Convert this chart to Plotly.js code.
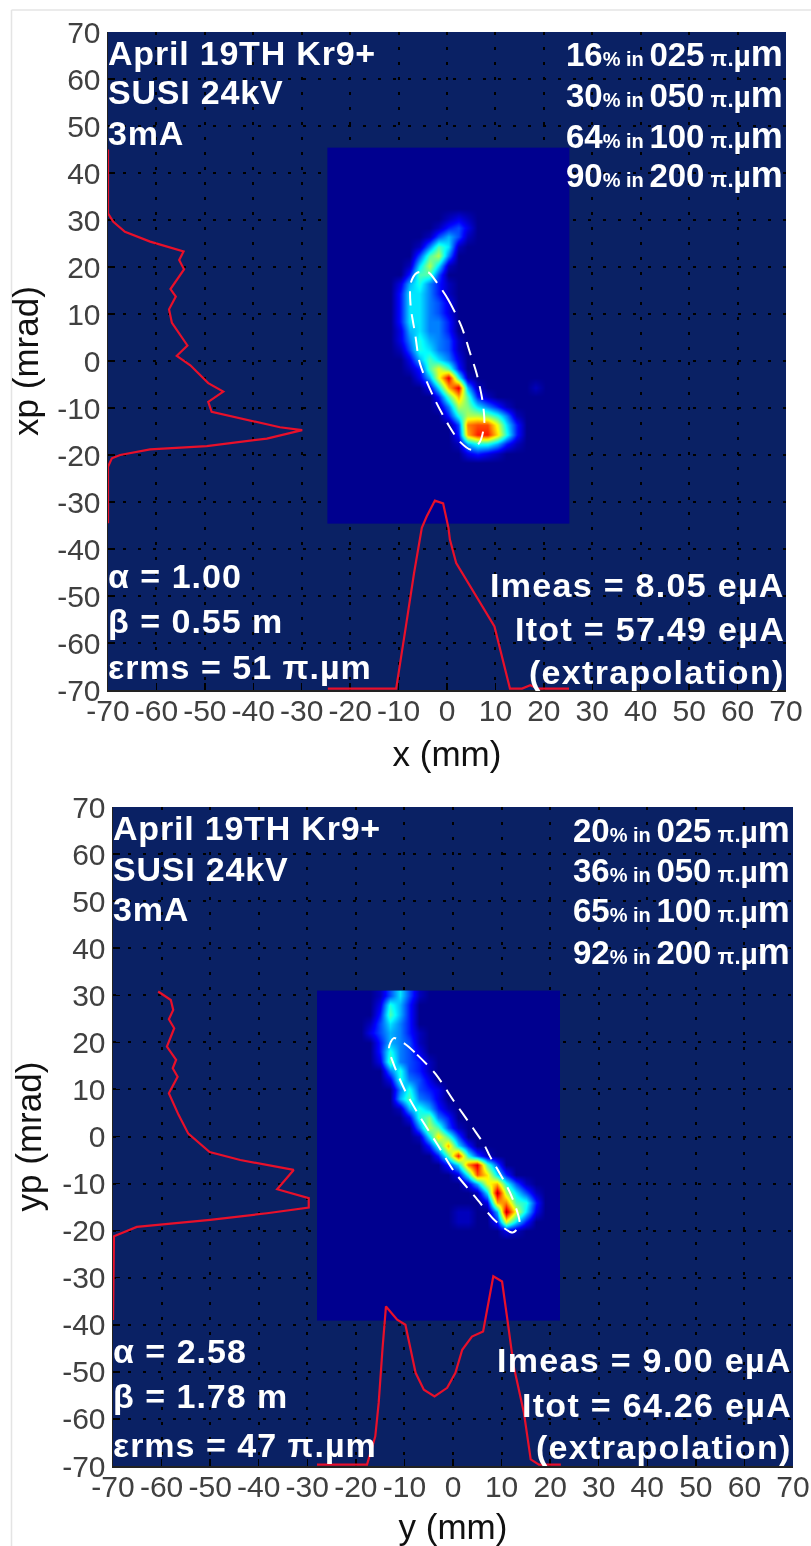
<!DOCTYPE html>
<html>
<head>
<meta charset="utf-8">
<script src="https://cdn.plot.ly/plotly-3.0.1.min.js"></script>
<style>html,body{margin:0;padding:0;background:#fff}#g{width:811px;height:1546px;filter:blur(0.6px)}</style>
</head>
<body>
<div id="g"></div>
<script>
// ---- axis ticks
const tickValues = [-70,-60,-50,-40,-30,-20,-10,0,10,20,30,40,50,60,70];
const tickLabels = ['-70','-60','-50','-40','-30','-20','-10','0','10','20','30','40','50','60','70'];

// ---- top panel (x, xp)
const heat1X = [-23.7,-21.7,-19.7,-17.7,-15.7,-13.7,-11.7,-9.7,-7.7,-5.7,-3.7,-1.7,0.3,2.3,4.3,6.3,8.3,10.3,12.3,14.3,16.3,18.3,20.3,22.3,24.3];
const heat1Y = [44.4,42.4,40.4,38.4,36.4,34.4,32.4,30.4,28.4,26.4,24.4,22.4,20.4,18.4,16.4,14.4,12.4,10.4,8.4,6.4,4.4,2.4,0.4,-1.6,-3.6,-5.6,-7.6,-9.6,-11.6,-13.6,-15.6,-17.6,-19.6,-21.6,-23.6,-25.6,-27.6,-29.6,-31.6,-33.6];
const heat1Z = [
[0,0,0,0,0,0,0,0,0,0,0,0,0,0,0,0,0,0,0,0,0,0,0,0,0],
[0,0,0,0,0,0,0,0,0,0,0,0,0,0,0,0,0,0,0,0,0,0,0,0,0],
[0,0,0,0,0,0,0,0,0,0,0,0,0,0,0,0,0,0,0,0,0,0,0,0,0],
[0,0,0,0,0,0,0,0,0,0,0,0,0,0,0,0,0,0,0,0,0,0,0,0,0],
[0,0,0,0,0,0,0,0,0,0,0,0,0,0,0,0,0,0,0,0,0,0,0,0,0],
[0,0,0,0,0,0,0,0,0,0,0,0,0,0,0,0,0,0,0,0,0,0,0,0,0],
[0,0,0,0,0,0,0,0,0,0,0,0,0,0,0,0,0,0,0,0,0,0,0,0,0],
[0,0,0,0,0,0,0,0,0,0,0,0,1,2,1,0,0,0,0,0,0,0,0,0,0],
[0,0,0,0,0,0,0,0,0,0,0,1,3,4,2,0,0,0,0,0,0,0,0,0,0],
[0,0,0,0,0,0,0,0,0,0,1,4,6,4,1,0,0,0,0,0,0,0,0,0,0],
[0,0,0,0,0,0,0,0,0,1,5,9,7,1,0,0,0,0,0,0,0,0,0,0,0],
[0,0,0,0,0,0,0,0,0,4,9,11,5,0,0,0,0,0,0,0,0,0,0,0,0],
[0,0,0,0,0,0,0,0,1,7,11,7,1,0,0,0,0,0,0,0,0,0,0,0,0],
[0,0,0,0,0,0,0,0,3,9,9,4,0,0,0,0,0,0,0,0,0,0,0,0,0],
[0,0,0,0,0,0,0,2,6,8,5,3,1,0,0,0,0,0,0,0,0,0,0,0,0],
[0,0,0,0,0,0,0,3,7,7,5,3,1,0,0,0,0,0,0,0,0,0,0,0,0],
[0,0,0,0,0,0,0,3,7,7,5,4,2,0,0,0,0,0,0,0,0,0,0,0,0],
[0,0,0,0,0,0,0,3,7,7,5,4,2,0,0,0,0,0,0,0,0,0,0,0,0],
[0,0,0,0,0,0,0,3,7,7,5,5,3,0,0,0,0,0,0,0,0,0,0,0,0],
[0,0,0,0,0,0,0,2,6,7,5,5,3,0,0,0,0,0,0,0,0,0,0,0,0],
[0,0,0,0,0,0,0,2,5,8,6,5,4,1,0,0,0,0,0,0,0,0,0,0,0],
[0,0,0,0,0,0,0,1,4,8,7,5,4,1,0,0,0,0,0,0,0,0,0,0,0],
[0,0,0,0,0,0,0,0,2,6,9,7,5,2,0,0,0,0,0,0,0,0,0,0,0],
[0,0,0,0,0,0,0,0,1,3,9,12,9,3,0,0,0,0,0,0,0,0,0,0,0],
[0,0,0,0,0,0,0,0,0,2,6,12,18,8,1,0,0,0,0,0,0,0,0,0,0],
[0,0,0,0,0,0,0,0,0,0,2,7,14,18,6,1,0,0,0,0,0,1,0,0,0],
[0,0,0,0,0,0,0,0,0,0,0,3,9,14,9,3,1,0,0,0,0,0,0,0,0],
[0,0,0,0,0,0,0,0,0,0,0,1,5,11,10,7,5,3,1,0,0,0,0,0,0],
[0,0,0,0,0,0,0,0,0,0,0,0,3,8,11,11,10,8,5,1,0,0,0,0,0],
[0,0,0,0,0,0,0,0,0,0,0,0,0,4,15,16,16,12,7,3,0,0,0,0,0],
[0,0,0,0,0,0,0,0,0,0,0,0,0,3,14,17,17,13,8,3,0,0,0,0,0],
[0,0,0,0,0,0,0,0,0,0,0,0,0,1,6,8,8,6,3,1,0,0,0,0,0],
[0,0,0,0,0,0,0,0,0,0,0,0,0,0,2,3,2,1,0,0,0,0,0,0,0],
[0,0,0,0,0,0,0,0,0,0,0,0,0,0,0,0,0,0,0,0,0,0,0,0,0],
[0,0,0,0,0,0,0,0,0,0,0,0,0,0,0,0,0,0,0,0,0,0,0,0,0],
[0,0,0,0,0,0,0,0,0,0,0,0,0,0,0,0,0,0,0,0,0,0,0,0,0],
[0,0,0,0,0,0,0,0,0,0,0,0,0,0,0,0,0,0,0,0,0,0,0,0,0],
[0,0,0,0,0,0,0,0,0,0,0,0,0,0,0,0,0,0,0,0,0,0,0,0,0],
[0,0,0,0,0,0,0,0,0,0,0,0,0,0,0,0,0,0,0,0,0,0,0,0,0],
[0,0,0,0,0,0,0,0,0,0,0,0,0,0,0,0,0,0,0,0,0,0,0,0,0]
];
const ellipse1X = [-2.1,0.3,3.0,4.8,6.1,7.3,7.7,6.8,5.1,2.7,0.3,-2.8,-5.6,-6.6,-7.5,-7.5,-6.3,-3.9];
const ellipse1Y = [16.7,13.0,7.3,1.6,-2.6,-8.3,-13.3,-17.2,-18.9,-17.2,-13.6,-7.6,-0.5,5.9,11.6,16.5,18.7,18.9];
const profile1LeftX = [-70,-70,-68.9,-66.5,-61.3,-54.4,-55.3,-54.3,-57.1,-56,-57.4,-56.8,-53.6,-55.8,-53,-49.3,-46.2,-49.3,-48.6,-40,-34.5,-29.9,-37.2,-49.6,-61.3,-67.5,-69.2,-70,-70];
const profile1LeftY = [45,31.4,29.6,27.5,25.4,23.3,21.5,19.5,15.3,13.7,11,8.1,3.3,1.1,-0.9,-4.7,-6.5,-8.7,-10.8,-12.9,-14.1,-14.7,-16.5,-18.1,-18.8,-20,-20.7,-22.5,-34.5];
const profile1BottomX = [-24.6,-10.5,-8.5,-6.8,-5.2,-4.2,-2.5,-0.8,0.3,0.6,1.9,6.6,9.8,13,15.5,17.2,18.8,25.2];
const profile1BottomY = [-69.7,-69.7,-56.5,-45.1,-35.5,-33.1,-29.7,-30.3,-35.5,-38,-43,-50.9,-56.5,-69.7,-69.7,-69,-69.7,-69.7];

// ---- bottom panel (y, yp)
const heat2X = [-27,-25,-23,-21,-19,-17,-15,-13,-11,-9,-7,-5,-3,-1,1,3,5,7,9,11,13,15,17,19,21];
const heat2Y = [30,28,26,24,22,20,18,16,14,12,10,8,6,4,2,0,-2,-4,-6,-8,-10,-12,-14,-16,-18,-20,-22,-24,-26,-28,-30,-32,-34,-36,-38];
const heat2Z = [
[0,0,0,0,0,0,1,4,7,4,1,0,0,0,0,0,0,0,0,0,0,0,0,0,0],
[0,0,0,0,0,0,2,8,6,3,0,0,0,0,0,0,0,0,0,0,0,0,0,0,0],
[0,0,0,0,0,0,3,9,6,3,0,0,0,0,0,0,0,0,0,0,0,0,0,0,0],
[0,0,0,0,0,1,4,7,5,3,0,0,0,0,0,0,0,0,0,0,0,0,0,0,0],
[0,0,0,0,0,2,4,6,5,3,1,0,0,0,0,0,0,0,0,0,0,0,0,0,0],
[0,0,0,0,0,0,3,6,5,4,1,0,0,0,0,0,0,0,0,0,0,0,0,0,0],
[0,0,0,0,0,0,3,8,5,4,2,0,0,0,0,0,0,0,0,0,0,0,0,0,0],
[0,0,0,0,0,0,2,9,5,4,3,1,0,0,0,0,0,0,0,0,0,0,0,0,0],
[0,0,0,0,0,0,0,5,8,4,3,1,0,0,0,0,0,0,0,0,0,0,0,0,0],
[0,0,0,0,0,0,0,2,8,5,4,2,0,0,0,0,0,0,0,0,0,0,0,0,0],
[0,0,0,0,0,0,0,0,5,8,4,3,2,0,0,0,0,0,0,0,0,0,0,0,0],
[0,0,0,0,0,0,0,0,6,9,5,4,2,0,0,0,0,0,0,0,0,0,0,0,0],
[0,0,0,0,0,0,0,0,1,6,8,6,3,1,0,0,0,0,0,0,0,0,0,0,0],
[0,0,0,0,0,0,0,0,0,2,8,10,5,3,0,0,0,0,0,0,0,0,0,0,0],
[0,0,0,0,0,0,0,0,0,0,5,11,9,4,1,0,0,0,0,0,0,0,0,0,0],
[0,0,0,0,0,0,0,0,0,0,1,7,13,9,4,0,0,0,0,0,0,0,0,0,0],
[0,0,0,0,0,0,0,0,0,0,0,3,8,14,7,3,0,0,0,0,0,0,0,0,0],
[0,0,0,0,0,0,0,0,0,0,0,0,3,9,17,8,4,1,0,0,0,0,0,0,0],
[0,0,0,0,0,0,0,0,0,0,0,0,0,3,7,15,18,9,4,0,0,0,0,0,0],
[0,0,0,0,0,0,0,0,0,0,0,0,0,0,2,8,16,13,7,3,0,0,0,0,0],
[0,0,0,0,0,0,0,0,0,0,0,0,0,0,0,2,6,12,14,8,4,1,0,0,0],
[0,0,0,0,0,0,0,0,0,0,0,0,0,0,0,0,1,7,19,11,7,4,1,0,0],
[0,0,0,0,0,0,0,0,0,0,0,0,0,0,0,0,0,2,14,15,9,8,3,0,0],
[0,0,0,0,0,0,0,0,0,0,0,0,0,0,1,1,0,0,6,19,12,7,2,0,0],
[0,0,0,0,0,0,0,0,0,0,0,0,0,0,1,1,0,0,3,12,7,3,0,0,0],
[0,0,0,0,0,0,0,0,0,0,0,0,0,0,0,0,0,0,0,2,1,0,0,0,0],
[0,0,0,0,0,0,0,0,0,0,0,0,0,0,0,0,0,0,0,0,0,0,0,0,0],
[0,0,0,0,0,0,0,0,0,0,0,0,0,0,0,0,0,0,0,0,0,0,0,0,0],
[0,0,0,0,0,0,0,0,0,0,0,0,0,0,0,0,0,0,0,0,0,0,0,0,0],
[0,0,0,0,0,0,0,0,0,0,0,0,0,0,0,0,0,0,0,0,0,0,0,0,0],
[0,0,0,0,0,0,0,0,0,0,0,0,0,0,0,0,0,0,0,0,0,0,0,0,0],
[0,0,0,0,0,0,0,0,0,0,0,0,0,0,0,0,0,0,0,0,0,0,0,0,0],
[0,0,0,0,0,0,0,0,0,0,0,0,0,0,0,0,0,0,0,0,0,0,0,0,0],
[0,0,0,0,0,0,0,0,0,0,0,0,0,0,0,0,0,0,0,0,0,0,0,0,0],
[0,0,0,0,0,0,0,0,0,0,0,0,0,0,0,0,0,0,0,0,0,0,0,0,0]
];
const ellipse2X = [-9.8,-7.4,-3.6,0.2,4.1,6.4,7.4,11.9,13.7,12.3,8.8,4.7,0.2,-3.2,-6.7,-9.8,-12.3,-13.2,-12.2];
const ellipse2Y = [19.6,17.4,13.3,7.5,1.8,-1.7,-3.8,-12.3,-18.7,-20.4,-18,-13,-7.4,-1.7,4,9.6,15.6,18.8,20.9];
const profile2LeftX = [-60.7,-58.1,-57.6,-58.5,-57.4,-58.9,-57,-57.7,-56.7,-58.5,-56.5,-54.5,-50.1,-43.8,-32.8,-36.2,-29.7,-29.7,-38.3,-50,-65.1,-69.8,-70];
const profile2LeftY = [30.8,29,26.9,24.9,23,19.1,16.3,14.5,12.7,9.2,4.6,0.6,-3.3,-5,-7.1,-11.2,-13.1,-15.1,-16.3,-17.7,-19.2,-21.2,-39];
const profile2BottomX = [-28,-17.7,-16,-15.3,-14.5,-13.8,-11.5,-9.8,-7.7,-6,-3.8,-1.2,0.5,1.9,3.9,6.2,8.3,10.1,11.2,12.5,14.6,16,17.7,22.2];
const profile2BottomY = [-69.7,-69.7,-63.7,-56.6,-44.9,-36.1,-38.9,-40,-50.2,-53.8,-55.2,-53.4,-50.2,-45.3,-42.5,-41.4,-29.7,-30.8,-38.9,-48.8,-58.7,-68.6,-69.7,-69.7];

// ---- text
const topLeftLines = ['April 19TH Kr9+','SUSI 24kV','3mA'];
const top1Right = [['16','025'],['30','050'],['64','100'],['90','200']];
const bottom1Left = ['α = 1.00','β = 0.55 m','εrms = 51 π.µm'];
const bottom1Right = ['Imeas = 8.05 eµA','Itot = 57.49 eµA','(extrapolation)'];
const top2Right = [['20','025'],['36','050'],['65','100'],['92','200']];
const bottom2Left = ['α = 2.58','β = 1.78 m','εrms = 47 π.µm'];
const bottom2Right = ['Imeas = 9.00 eµA','Itot = 64.26 eµA','(extrapolation)'];

// ---- styling
const W = 811, H = 1546;
const NAVY = '#0A2164', RED = '#E8102A';
const FONT = '"Liberation Sans", Arial, sans-serif';
const jet = [[0,'#00008F'],[0.125,'#0000FF'],[0.375,'#00FFFF'],[0.625,'#FFFF00'],[0.875,'#FF0000'],[1,'#800000']];

function heat(x,y,z,xa,ya){return {type:'heatmap',x:x,y:y,z:z,xaxis:xa,yaxis:ya,colorscale:jet,zmin:0,zmax:20,zsmooth:'best',showscale:false,hoverinfo:'skip'};}
function red(x,y,xa,ya){return {type:'scatter',mode:'lines',x:x,y:y,xaxis:xa,yaxis:ya,cliponaxis:false,line:{color:RED,width:2.2},hoverinfo:'skip'};}
function dashed(x,y,xa,ya){return {type:'scatter',mode:'lines',x:x.concat(x[0]),y:y.concat(y[0]),xaxis:xa,yaxis:ya,line:{color:'#FFFFFF',width:2,dash:'14px,9px',shape:'spline',smoothing:0.8},hoverinfo:'skip'};}

function ax(title,domain,anchor,standoff,labelOff){return {
  domain:domain,anchor:anchor,range:[-70,70],tickmode:'array',tickvals:tickValues,ticktext:tickLabels,layer:'below traces',
  ticks:'inside',ticklen:7,tickwidth:1.5,tickcolor:'#000',showline:true,linecolor:'#222',linewidth:1.5,
  showgrid:true,gridcolor:'#000',griddash:'3px,12px',gridwidth:2,zeroline:false,
  tickfont:{family:FONT,size:30,color:'#404040'},ticklabelstandoff:labelOff,
  title:{text:title,font:{family:FONT,size:35,color:'#111'},standoff:standoff}
};}

function ann(text,px,py,anchor,size,spacing){return {
  xref:'paper',yref:'paper',x:px/W,y:1-py/H,xanchor:anchor,yanchor:'middle',showarrow:false,align:anchor,borderpad:0,
  text:'<span style="letter-spacing:'+spacing+'px"><b>'+text+'</b></span>',font:{family:FONT,size:size,color:'#FFF'}
};}
function emit(pair){return '<span style="font-size:33px">'+pair[0]+'</span><span style="font-size:20px">% in </span><span style="font-size:33px">'+pair[1]+'</span><span style="font-size:22px"> π.</span><span style="font-size:30px">µ</span><span style="font-size:36px">m</span>';}

const annotations = [];
function panel(leftPx,rightPx,topYs,topLeftYs,blYs,brYs,topRight,bl,br){
  topLeftLines.forEach((t,i)=>annotations.push(ann(t,leftPx,topLeftYs[i],'left',34,0.8)));
  topRight.forEach((p,i)=>annotations.push(ann(emit(p),rightPx-2,topYs[i],'right',33,0)));
  bl.forEach((t,i)=>annotations.push(ann(t,leftPx,blYs[i],'left',34,1)));
  br.forEach((t,i)=>annotations.push(ann(t,rightPx,brYs[i],'right',34,1.3)));
}
panel(107,786,[53,94,135,175],[53,92,133],[576,621,667],[585,629,672],top1Right,bottom1Left,bottom1Right);
panel(112,793,[829,869,910,951],[828,869,909],[1351,1396,1445],[1360,1405,1447],top2Right,bottom2Left,bottom2Right);

const layout = {
  width:W,height:H,margin:{l:0,r:0,t:0,b:0},paper_bgcolor:'#FFF',plot_bgcolor:NAVY,showlegend:false,
  xaxis:ax('x (mm)',[108/W,786/W],'y',16,-7),
  yaxis:ax('xp (mrad)',[1-690/H,1-32/H],'x',8,0),
  xaxis2:ax('y (mm)',[113/W,793/W],'y2',17,-7),
  yaxis2:ax('yp (mrad)',[1-1466/H,1-807/H],'x2',10,0),
  annotations:annotations,
  shapes:[
    {type:'line',xref:'paper',yref:'paper',x0:11.5/W,x1:11.5/W,y0:0,y1:1-10/H,line:{color:'#E4E4E4',width:1.5}},
    {type:'line',xref:'paper',yref:'paper',x0:11.5/W,x1:1,y0:1-10/H,y1:1-10/H,line:{color:'#E4E4E4',width:1.5}}
  ]
};

const data = [
  heat(heat1X,heat1Y,heat1Z,'x','y'),
  red(profile1LeftX,profile1LeftY,'x','y'),
  red(profile1BottomX,profile1BottomY,'x','y'),
  dashed(ellipse1X,ellipse1Y,'x','y'),
  heat(heat2X,heat2Y,heat2Z,'x2','y2'),
  red(profile2LeftX,profile2LeftY,'x2','y2'),
  red(profile2BottomX,profile2BottomY,'x2','y2'),
  dashed(ellipse2X,ellipse2Y,'x2','y2')
];
Plotly.newPlot('g',data,layout,{staticPlot:true,displayModeBar:false});
</script>
</body>
</html>
